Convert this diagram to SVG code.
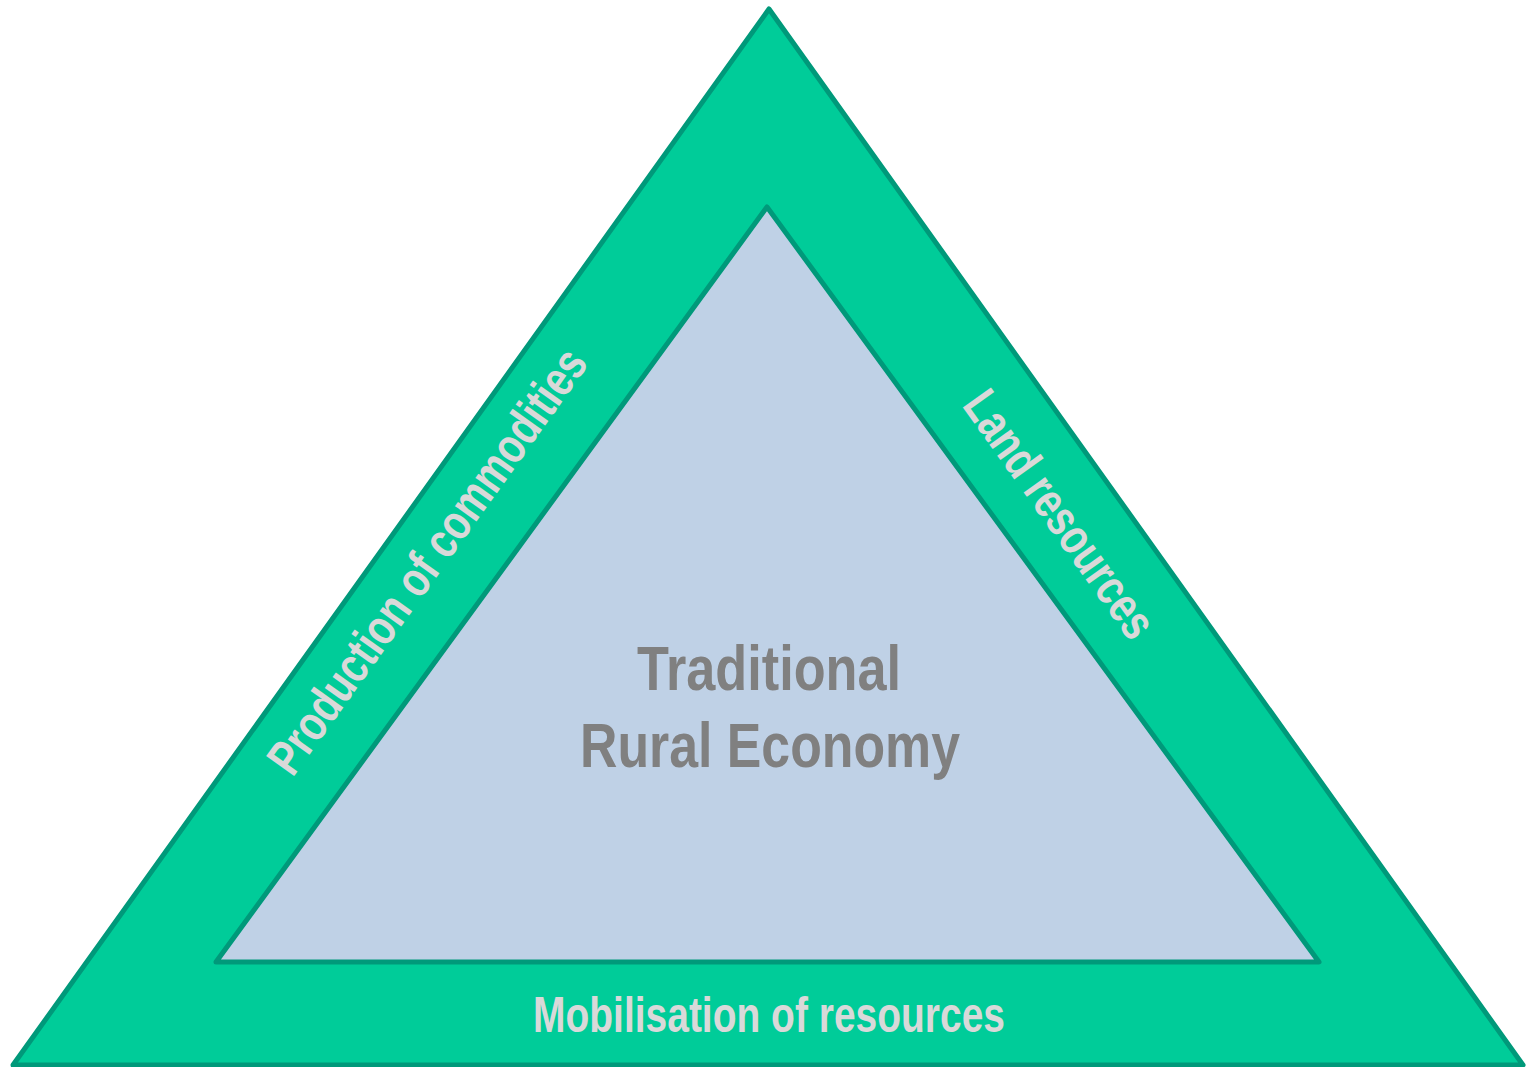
<svg xmlns="http://www.w3.org/2000/svg" width="1526" height="1067" viewBox="0 0 1526 1067">
<style>
.tri{stroke:#00997a;stroke-width:5;stroke-linejoin:round}
.outer{fill:#00cc99}
.inner{fill:#bfd1e6}
.lbl{font-family:"Liberation Sans Narrow","Liberation Sans",Arial,sans-serif;font-weight:bold;text-anchor:middle}
.side{fill:#d9d9d9;font-size:50px}
.center{fill:#808080;font-size:63px}
</style>
<rect width="1526" height="1067" fill="#ffffff"/>
<g id="outer-triangle">
<polygon class="tri outer" points="769,9 1523,1065 13,1065"/>
</g>
<g id="inner-triangle">
<polygon class="tri inner" points="767,207 1319,962 216,962"/>
</g>
<g id="label-production">
<text class="lbl side" transform="translate(441,571) rotate(-54.4)" textLength="510" lengthAdjust="spacingAndGlyphs">Production of commodities</text>
</g>
<g id="label-land">
<text class="lbl side" transform="translate(1046,524) rotate(54.5)" textLength="292" lengthAdjust="spacingAndGlyphs">Land resources</text>
</g>
<g id="label-mobilisation">
<text class="lbl side" x="769" y="1032" textLength="472" lengthAdjust="spacingAndGlyphs">Mobilisation of resources</text>
</g>
<g id="label-center">
<text class="lbl center" x="769" y="690" textLength="264" lengthAdjust="spacingAndGlyphs">Traditional</text>
<text class="lbl center" x="770" y="767" textLength="380" lengthAdjust="spacingAndGlyphs">Rural Economy</text>
</g>
<g id="connectors"/>
</svg>
